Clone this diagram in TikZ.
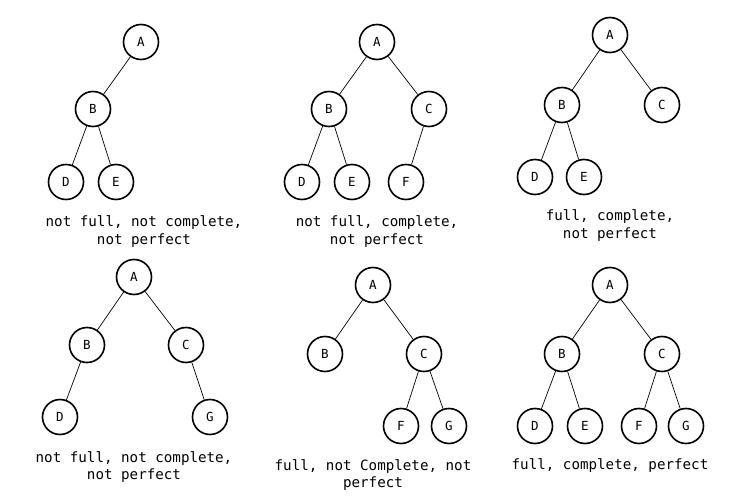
\documentclass[tikz,border=0pt]{standalone}
\usepackage{fontspec}
\setmonofont{DejaVu Sans Mono}
\usetikzlibrary{positioning}

\begin{document}
\begin{tikzpicture}[
    x=1pt, y=-1pt,
    vertex/.style={circle, draw=black, line width=1.6pt, minimum size=35pt, inner sep=0pt,
                   font=\ttfamily\fontsize{12.5}{14}\selectfont},
    tree edge/.style={draw=black, line width=0.7pt},
    caption/.style={align=center, font=\ttfamily\fontsize{14.2}{17.3}\selectfont}
]
    \useasboundingbox (0,0) rectangle (750,500);

    % Tree 1: not full, not complete, not perfect
    \node[vertex] (a1) at (141,42) {A};
    \node[vertex] (b1) at (93,109) {B};
    \node[vertex] (d1) at (66,182) {D};
    \node[vertex] (e1) at (116,182) {E};
    \path[tree edge] (a1) -- (b1) (b1) -- (d1) (b1) -- (e1);
    \node[caption] (t1) at (144,231.5) {not full, not complete,\\not perfect};

    % Tree 2: not full, complete, not perfect
    \node[vertex] (a2) at (377,42) {A};
    \node[vertex] (b2) at (329,109) {B};
    \node[vertex] (c2) at (429,109) {C};
    \node[vertex] (d2) at (302,182) {D};
    \node[vertex] (e2) at (352,182) {E};
    \node[vertex] (f2) at (406,182) {F};
    \path[tree edge] (a2) -- (b2) (a2) -- (c2) (b2) -- (d2) (b2) -- (e2) (c2) -- (f2);
    \node[caption] (t2) at (377,231.5) {not full, complete,\\not perfect};

    % Tree 3: full, complete, not perfect
    \node[vertex] (a3) at (610,35) {A};
    \node[vertex] (b3) at (562,105) {B};
    \node[vertex] (c3) at (662,105) {C};
    \node[vertex] (d3) at (535,177) {D};
    \node[vertex] (e3) at (584,177) {E};
    \path[tree edge] (a3) -- (b3) (a3) -- (c3) (b3) -- (d3) (b3) -- (e3);
    \node[caption] (t3) at (610,225.5) {full, complete,\\not perfect};

    % Tree 4: not full, not complete, not perfect
    \node[vertex] (a4) at (134,277) {A};
    \node[vertex] (b4) at (87,345) {B};
    \node[vertex] (c4) at (186,345) {C};
    \node[vertex] (d4) at (60,417) {D};
    \node[vertex] (g4) at (210,417) {G};
    \path[tree edge] (a4) -- (b4) (a4) -- (c4) (b4) -- (d4) (c4) -- (g4);
    \node[caption] (t4) at (134,467) {not full, not complete,\\not perfect};

    % Tree 5: full, not complete, not perfect
    \node[vertex] (a5) at (373,285) {A};
    \node[vertex] (b5) at (325,354) {B};
    \node[vertex] (c5) at (424,354) {C};
    \node[vertex] (f5) at (401,426) {F};
    \node[vertex] (g5) at (449,426) {G};
    \path[tree edge] (a5) -- (b5) (a5) -- (c5) (c5) -- (f5) (c5) -- (g5);
    \node[caption] (t5) at (373,475) {full, not Complete, not\\perfect};

    % Tree 6: full, complete, perfect
    \node[vertex] (a6) at (610,285) {A};
    \node[vertex] (b6) at (562,354) {B};
    \node[vertex] (c6) at (662,354) {C};
    \node[vertex] (d6) at (535,426) {D};
    \node[vertex] (e6) at (585,426) {E};
    \node[vertex] (f6) at (639,426) {F};
    \node[vertex] (g6) at (686,426) {G};
    \path[tree edge] (a6) -- (b6) (a6) -- (c6) (b6) -- (d6) (b6) -- (e6)
                     (c6) -- (f6) (c6) -- (g6);
    \node[caption] (t6) at (610,466) {full, complete, perfect};

\end{tikzpicture}
\end{document}
